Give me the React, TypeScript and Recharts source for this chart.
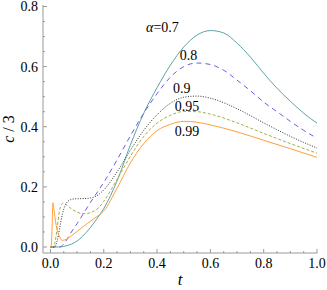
import { LineChart, Line, XAxis, YAxis, ReferenceDot } from "recharts";

// α = 0.7
const t07 = [0, 0.03, 0.05, 0.08, 0.1, 0.12, 0.15, 0.175, 0.2, 0.25, 0.3, 0.35, 0.4, 0.45, 0.5, 0.55, 0.6, 0.65, 0.7, 0.75, 0.8, 0.85, 0.9, 0.95, 1.0];
const c07 = [0, 0, 0.002, 0.01, 0.02, 0.035, 0.065, 0.095, 0.128, 0.22, 0.34, 0.445, 0.53, 0.605, 0.665, 0.705, 0.72, 0.712, 0.678, 0.632, 0.578, 0.528, 0.485, 0.445, 0.412];

// α = 0.8
const t08 = [0, 0.035, 0.05, 0.075, 0.1, 0.15, 0.2, 0.25, 0.3, 0.35, 0.4, 0.45, 0.5, 0.55, 0.6, 0.65, 0.7, 0.75, 0.8, 0.85, 0.9, 0.95, 1.0];
const c08 = [0, 0, 0.01, 0.045, 0.078, 0.148, 0.215, 0.29, 0.37, 0.445, 0.51, 0.565, 0.6, 0.612, 0.607, 0.588, 0.555, 0.52, 0.482, 0.45, 0.418, 0.388, 0.362];

// α = 0.9
const t09 = [0, 0.015, 0.025, 0.035, 0.045, 0.055, 0.07, 0.09, 0.12, 0.15, 0.18, 0.2, 0.25, 0.3, 0.35, 0.4, 0.45, 0.5, 0.55, 0.6, 0.7, 0.8, 0.9, 1.0];
const c09 = [0, 0, 0.02, 0.065, 0.11, 0.138, 0.155, 0.16, 0.161, 0.163, 0.174, 0.19, 0.25, 0.322, 0.388, 0.44, 0.478, 0.498, 0.502, 0.495, 0.46, 0.413, 0.368, 0.329];

// α = 0.95
const t095 = [0, 0.01, 0.018, 0.026, 0.034, 0.042, 0.05, 0.06, 0.08, 0.1, 0.12, 0.14, 0.16, 0.18, 0.2, 0.25, 0.3, 0.35, 0.4, 0.45, 0.5, 0.55, 0.6, 0.7, 0.8, 0.9, 1.0];
const c095 = [0, 0.002, 0.02, 0.07, 0.12, 0.143, 0.146, 0.14, 0.126, 0.116, 0.111, 0.112, 0.118, 0.13, 0.152, 0.225, 0.302, 0.368, 0.412, 0.438, 0.451, 0.45, 0.442, 0.413, 0.378, 0.344, 0.312];

// α = 0.99
const t099 = [0, 0.003, 0.006, 0.009, 0.013, 0.02, 0.028, 0.036, 0.045, 0.06, 0.08, 0.1, 0.12, 0.14, 0.16, 0.18, 0.2, 0.25, 0.3, 0.35, 0.4, 0.45, 0.5, 0.55, 0.6, 0.7, 0.8, 0.9, 1.0];
const c099 = [0, 0.003, 0.06, 0.147, 0.125, 0.08, 0.048, 0.03, 0.022, 0.026, 0.038, 0.052, 0.066, 0.079, 0.092, 0.105, 0.12, 0.196, 0.28, 0.344, 0.387, 0.408, 0.418, 0.415, 0.406, 0.383, 0.355, 0.327, 0.298];

const xMajor = [0, 0.2, 0.4, 0.6, 0.8, 1.0];
const yMajor = [0, 0.2, 0.4, 0.6, 0.8];
const minorStep = 0.05;

const labelText = ["0.7", "0.8", "0.9", "0.95", "0.99"];
const labelT = [0.42, 0.518, 0.493, 0.512, 0.512];
const labelC = [0.732, 0.639, 0.529, 0.469, 0.386];

const FRAME = "#999";
const FONT = "Liberation Serif, DejaVu Serif, serif";

const zip = (t: number[], c: number[]) => t.map((v, i) => ({ t: v, c: c[i] }));

const steps = (max: number) => {
  const out: number[] = [];
  for (let i = 0; i * minorStep <= max + 1e-9; i++) out.push(+(i * minorStep).toFixed(2));
  return out;
};
const xTicks = steps(1.0);
const yTicks = steps(0.8);

const isMajor = (v: number, majors: number[]) => majors.some((m) => Math.abs(m - v) < 1e-6);

function BottomTick({ x, y, payload }: any) {
  const major = isMajor(payload.value, xMajor);
  return (
    <g>
      <line x1={x} x2={x} y1={y} y2={y - (major ? 4 : 2)} stroke={FRAME} />
      {major && (
        <text x={x} y={y + 15} textAnchor="middle" fontSize={14} fontFamily={FONT} fill="#000">
          {payload.value.toFixed(1)}
        </text>
      )}
    </g>
  );
}

function TopTick({ x, y, payload }: any) {
  const major = isMajor(payload.value, xMajor);
  return <line x1={x} x2={x} y1={y} y2={y + (major ? 4 : 2)} stroke={FRAME} />;
}

function LeftTick({ x, y, payload }: any) {
  const major = isMajor(payload.value, yMajor);
  return (
    <g>
      <line x1={x} x2={x + (major ? 4 : 2)} y1={y} y2={y} stroke={FRAME} />
      {major && (
        <text x={x - 5} y={y} dy="0.35em" textAnchor="end" fontSize={14} fontFamily={FONT} fill="#000">
          {payload.value.toFixed(1)}
        </text>
      )}
    </g>
  );
}

function RightTick({ x, y, payload }: any) {
  const major = isMajor(payload.value, yMajor);
  return <line x1={x} x2={x - (major ? 4 : 2)} y1={y} y2={y} stroke={FRAME} />;
}

function XLabel({ viewBox }: any) {
  const cx = viewBox.x + viewBox.width / 2;
  return (
    <text x={cx} y={viewBox.y + viewBox.height - 5} textAnchor="middle" fontSize={17} fontStyle="italic" fontFamily={FONT} fill="#000">
      t
    </text>
  );
}

function YLabel({ viewBox }: any) {
  const cy = viewBox.y + viewBox.height / 2;
  const x = 14;
  return (
    <text x={x} y={cy} transform={`rotate(-90 ${x} ${cy})`} textAnchor="middle" fontSize={16} fontFamily={FONT} fill="#000">
      <tspan fontStyle="italic">c</tspan> / 3
    </text>
  );
}

function CurveLabel(text: string, first: boolean) {
  return ({ viewBox }: any) => {
    const cx = viewBox.x + viewBox.width / 2;
    const cy = viewBox.y + viewBox.height / 2;
    return (
      <text x={cx} y={cy} dy="0.35em" textAnchor="middle" fontSize={14} fontFamily={FONT} fill="#000">
        {first && <tspan fontStyle="italic">α</tspan>}
        {first ? "=" : ""}
        {text}
      </text>
    );
  };
}

const series = [
  { data: zip(t07, c07), color: "#5fa3a6", dash: undefined },
  { data: zip(t08, c08), color: "#6f5ce6", dash: "5 4" },
  { data: zip(t09, c09), color: "#333333", dash: "1 1.5" },
  { data: zip(t095, c095), color: "#a6ad45", dash: "3 2" },
  { data: zip(t099, c099), color: "#ff9f3a", dash: undefined },
];

export default function App() {
  return (
    <div style={{ position: "absolute", left: 0, top: 0, background: "#fff" }}>
      <LineChart width={327} height={290} margin={{ top: 5, right: 10, bottom: 0, left: 0 }}>
        <XAxis
          dataKey="t"
          type="number"
          domain={[-0.028, 1.0]}
          allowDataOverflow
          ticks={xTicks}
          interval={0}
          tickSize={0}
          tickMargin={0}
          tickLine={false}
          tick={<BottomTick />}
          height={37}
          axisLine={{ stroke: FRAME }}
          label={{ content: <XLabel /> }}
        />
        <XAxis
          xAxisId="top"
          orientation="top"
          type="number"
          domain={[-0.028, 1.0]}
          allowDataOverflow
          ticks={xTicks}
          interval={0}
          tickSize={0}
          tickMargin={0}
          tickLine={false}
          tick={<TopTick />}
          height={0}
          axisLine={{ stroke: FRAME }}
        />
        <YAxis
          type="number"
          domain={[-0.02, 0.805]}
          allowDataOverflow
          ticks={yTicks}
          interval={0}
          tickSize={0}
          tickMargin={0}
          tickLine={false}
          tick={<LeftTick />}
          width={43}
          axisLine={{ stroke: FRAME }}
          label={{ content: <YLabel /> }}
        />
        <YAxis
          yAxisId="right"
          orientation="right"
          type="number"
          domain={[-0.02, 0.805]}
          allowDataOverflow
          ticks={yTicks}
          interval={0}
          tickSize={0}
          tickMargin={0}
          tickLine={false}
          tick={<RightTick />}
          width={0}
          axisLine={{ stroke: FRAME }}
        />
        {series.map((s, i) => (
          <Line
            key={i}
            data={s.data}
            dataKey="c"
            type="monotone"
            stroke={s.color}
            strokeWidth={1}
            strokeDasharray={s.dash}
            dot={false}
            activeDot={false}
            isAnimationActive={false}
          />
        ))}
        {labelText.map((txt, i) => (
          <ReferenceDot
            key={txt}
            x={labelT[i]}
            y={labelC[i]}
            r={0}
            fill="none"
            stroke="none"
            label={{ content: CurveLabel(txt, i === 0) }}
          />
        ))}
      </LineChart>
    </div>
  );
}
